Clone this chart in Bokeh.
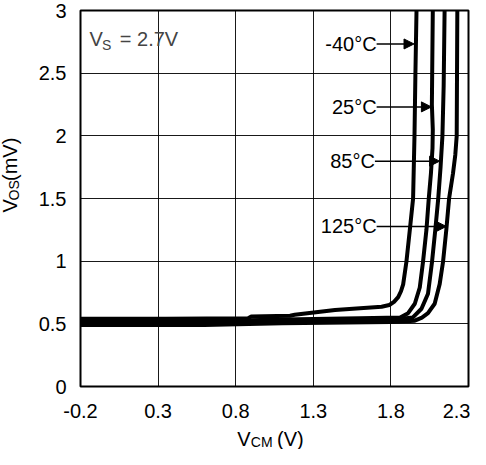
from bokeh.plotting import figure
from bokeh.models import FixedTicker, Label, Arrow, NormalHead, Range1d
from bokeh.layouts import row, column
from bokeh.embed import file_html
from bokeh.resources import INLINE
import math

# ---- data ----
x_ticks = [-0.2, 0.3, 0.8, 1.3, 1.8, 2.3]
x_tick_labels = ["-0.2", "0.3", "0.8", "1.3", "1.8", "2.3"]
y_ticks = [0, 0.5, 1, 1.5, 2, 2.5, 3]
y_tick_labels = ["0", "0.5", "1", "1.5", "2", "2.5", "3"]

vcm_m40 = [-0.2, 0.35, 0.88, 0.9, 1.15, 1.18, 1.44, 1.74, 1.79, 1.82, 1.847, 1.865, 1.879, 1.9, 1.922, 1.943, 1.952, 1.958, 1.965]
vos_m40 = [0.54, 0.54, 0.545, 0.558, 0.565, 0.572, 0.61, 0.636, 0.65, 0.675, 0.713, 0.76, 0.815, 0.995, 1.25, 1.5, 2.0, 2.5, 3.0]

vcm_25 = [-0.2, 0.6, 1.1, 1.6, 1.86, 1.911, 1.954, 1.986, 2.007, 2.029, 2.044, 2.058, 2.068, 2.07, 2.064, 2.066, 2.07]
vos_25 = [0.52, 0.52, 0.535, 0.545, 0.55, 0.585, 0.66, 0.79, 0.995, 1.25, 1.5, 1.7, 1.9, 2.05, 2.25, 2.5, 3.0]

vcm_85 = [-0.2, 0.6, 1.1, 1.8, 1.94, 1.997, 2.039, 2.065, 2.086, 2.105, 2.12, 2.132, 2.14, 2.146]
vos_85 = [0.505, 0.505, 0.52, 0.53, 0.55, 0.62, 0.74, 0.995, 1.25, 1.5, 1.75, 2.0, 2.4, 3.0]

vcm_125 = [-0.2, 0.6, 1.1, 1.8, 1.954, 2.0, 2.039, 2.082, 2.114, 2.136, 2.157, 2.175, 2.2, 2.215, 2.224, 2.226, 2.228]
vos_125 = [0.49, 0.49, 0.505, 0.515, 0.525, 0.55, 0.585, 0.66, 0.815, 0.995, 1.25, 1.5, 1.7, 1.85, 2.0, 2.5, 3.0]

temp_labels = ["-40°C", "25°C", "85°C", "125°C"]

FONT = "Liberation Sans"
YLAB_W = 26
MAIN_W = 444
MAIN_H = 427
XLAB_H = 22

p = figure(width=MAIN_W, height=MAIN_H,
           x_range=Range1d(-0.2, 2.3), y_range=Range1d(0, 3),
           output_backend="svg", toolbar_location=None,
           min_border_left=54, min_border_right=2, min_border_top=10, min_border_bottom=41,
           background_fill_color="white", border_fill_color="white")

p.outline_line_color = "black"
p.outline_line_width = 2

for ax in (p.xaxis[0], p.yaxis[0]):
    ax.axis_line_color = None
    ax.major_tick_line_color = None
    ax.minor_tick_line_color = None
    ax.major_tick_out = 0
    ax.major_tick_in = 0
    ax.minor_tick_out = 0
    ax.major_label_text_font = FONT
    ax.major_label_text_font_size = "20px"
    ax.major_label_text_color = "black"

p.xaxis.ticker = FixedTicker(ticks=x_ticks)
p.yaxis.ticker = FixedTicker(ticks=y_ticks)
p.xaxis.major_label_overrides = {float(t): l for t, l in zip(x_ticks, x_tick_labels)}
p.yaxis.major_label_overrides = {float(t): l for t, l in zip(y_ticks, y_tick_labels)}
p.xaxis.major_label_standoff = 17
p.yaxis.major_label_standoff = 14

for g in (p.xgrid[0], p.ygrid[0]):
    g.grid_line_color = "black"
    g.grid_line_width = 1
    g.grid_line_alpha = 0.9

for xs, ys in [(vcm_125, vos_125), (vcm_85, vos_85), (vcm_25, vos_25), (vcm_m40, vos_m40)]:
    p.line(xs, ys, line_color="black", line_width=4, line_join="round")

# temperature labels with arrows
label_x = [1.708, 1.708, 1.697, 1.708]
label_y = [2.733, 2.231, 1.798, 1.277]
tip_x = [1.949, 2.061, 2.114, 2.157]
for t, lx, ly, tx in zip(temp_labels, label_x, label_y, tip_x):
    p.add_layout(Label(x=lx, y=ly, text=t, text_align="right", text_baseline="middle",
                       text_font=FONT, text_font_size="20px", text_color="black"))
    p.add_layout(Arrow(x_start=lx, y_start=ly, x_end=tx, y_end=ly, line_width=1.5, line_color="black",
                       end=NormalHead(size=10, fill_color="black", line_color="black")))

# V_S = 2.7V
p.add_layout(Label(x=-0.1423, y=2.773, text="V", text_align="left", text_baseline="middle",
                   text_font=FONT, text_font_size="20px"))
p.add_layout(Label(x=-0.0622, y=2.7255, text="S", text_align="left", text_baseline="middle",
                   text_font=FONT, text_font_size="14px"))
p.add_layout(Label(x=0.0532, y=2.773, text="= 2.7V", text_align="left", text_baseline="middle",
                   text_font=FONT, text_font_size="20px"))


def text_panel(w, h):
    f = figure(width=w, height=h, x_range=Range1d(0, w), y_range=Range1d(h, 0),
               x_axis_type=None, y_axis_type=None, output_backend="svg", toolbar_location=None,
               min_border=0, outline_line_color=None,
               background_fill_color="white", border_fill_color="white")
    f.grid.visible = False
    return f


# y axis title  V_OS (mV)  (rotated, centre-anchored pieces)
ylab = text_panel(YLAB_W, MAIN_H)
for txt, cx, cy, size in [("V", 9.5, 221.8, "20px"), ("OS", 13.5, 204.3, "14px"), ("(mV)", 9.7, 169.0, "20px")]:
    ylab.add_layout(Label(x=cx, y=cy, text=txt, angle=math.pi / 2, text_align="center",
                          text_baseline="middle", text_font=FONT, text_font_size=size,
                          text_color="black"))

# x axis title  V_CM (V)
xlab = text_panel(YLAB_W + MAIN_W, XLAB_H)
for txt, sx, cy, size in [("V", 236.7, 11.5, "20px"), ("CM", 250.3, 14.0, "14px"), ("(V)", 276.5, 11.5, "20px")]:
    xlab.add_layout(Label(x=sx, y=cy, text=txt, text_align="left", text_baseline="middle",
                          text_font=FONT, text_font_size=size, text_color="black"))

layout = column(row(ylab, p), xlab)

open("out.html", "w").write(file_html(layout, INLINE))
